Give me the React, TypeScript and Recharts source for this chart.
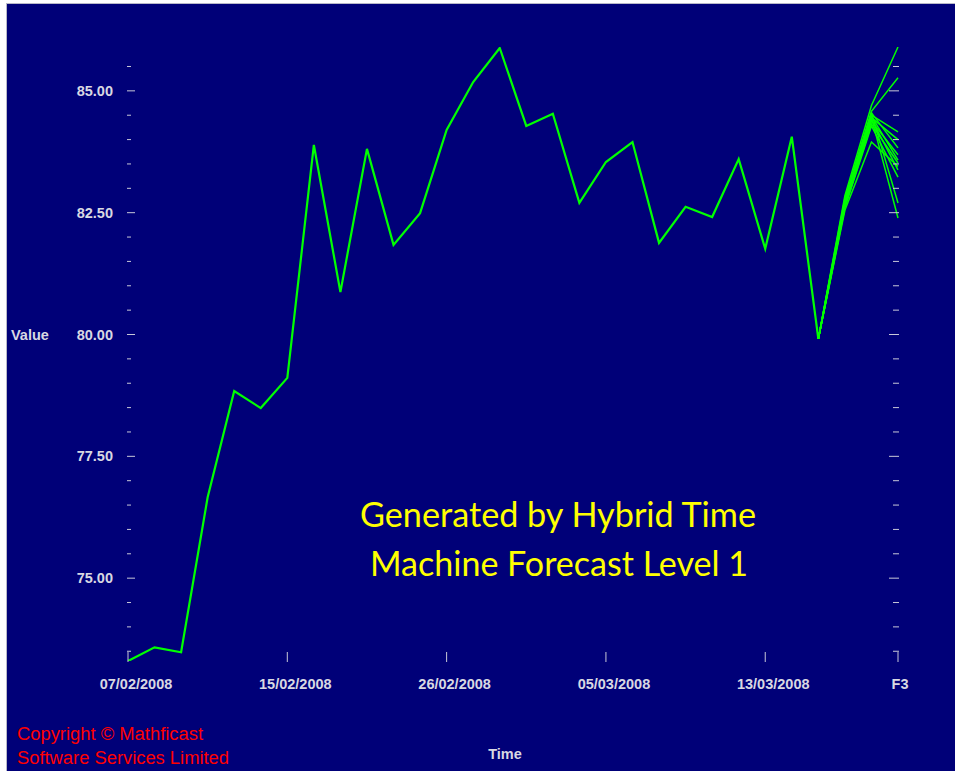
import { LineChart, Line, XAxis, YAxis } from 'recharts'

// trading days, then the three forecast steps
const dates = [
  '07/02/2008', '08/02/2008', '11/02/2008', '12/02/2008', '13/02/2008', '14/02/2008',
  '15/02/2008', '19/02/2008', '20/02/2008', '21/02/2008', '22/02/2008', '25/02/2008',
  '26/02/2008', '27/02/2008', '28/02/2008', '29/02/2008', '03/03/2008', '04/03/2008',
  '05/03/2008', '06/03/2008', '07/03/2008', '10/03/2008', '11/03/2008', '12/03/2008',
  '13/03/2008', '14/03/2008', '17/03/2008', 'F1', 'F2', 'F3',
]

const history = [
  73.30, 73.58, 73.48, 76.66, 78.84, 78.49, 79.11, 83.89, 80.87, 83.81,
  81.84, 82.49, 84.20, 85.18, 85.88, 84.28, 84.53, 82.70, 83.54, 83.95,
  81.88, 82.62, 82.41, 83.60, 81.76, 84.06, 79.91,
]

// each run: F1, F2, F3 (starts from the last history value)
const forecastRuns = [
  [82.85, 84.70, 85.90],
  [82.80, 84.58, 85.27],
  [82.75, 84.50, 84.16],
  [82.70, 84.45, 84.00],
  [82.72, 84.55, 83.83],
  [82.65, 84.38, 83.69],
  [82.68, 84.48, 83.58],
  [82.62, 84.32, 83.52],
  [82.70, 84.42, 83.38],
  [82.60, 84.28, 83.23],
  [82.75, 84.55, 82.70],
  [82.65, 84.45, 82.39],
  [82.55, 83.95, 83.45],
]

const xTicks = ['07/02/2008', '15/02/2008', '26/02/2008', '05/03/2008', '13/03/2008', 'F3']
const yTicks = [
  73.5, 74, 74.5, 75, 75.5, 76, 76.5, 77, 77.5, 78, 78.5, 79, 79.5,
  80, 80.5, 81, 81.5, 82, 82.5, 83, 83.5, 84, 84.5, 85, 85.5,
]
const yMajor = [75, 77.5, 80, 82.5, 85]

const last = history.length - 1
const data = dates.map((label, i) => {
  const row: Record<string, string | number | null> = {
    label,
    hist: i <= last ? history[i] : null,
  }
  forecastRuns.forEach((run, k) => {
    const j = i - last
    row['f' + k] = j < 0 ? null : j === 0 ? history[last] : run[j - 1]
  })
  return row
})

const BG = '#000078'
const LABEL = '#d8d8e2'
const TICK = '#c8c8d8'
const FONT = '"Liberation Sans", Arial, sans-serif'

const LeftTick = ({ x, y, payload }: any) => {
  const major = yMajor.includes(payload.value)
  return (
    <g>
      <line x1={x - 1} x2={x + (major ? 7 : 3)} y1={y} y2={y} stroke={TICK} strokeWidth={1} />
      {major && (
        <text x={x - 15} y={y} dy={5} textAnchor="end" fill={LABEL} fontFamily={FONT} fontWeight="bold" fontSize={14.5}>
          {payload.value.toFixed(2)}
        </text>
      )}
    </g>
  )
}

const RightTick = ({ x, y, payload }: any) => {
  const major = yMajor.includes(payload.value)
  return <line x1={x - (major ? 9 : 5)} x2={x + 1} y1={y} y2={y} stroke={TICK} strokeWidth={1} />
}

const BottomTick = ({ x, y, payload }: any) => {
  const dx = payload.value === 'F3' ? 2 : 8
  return (
    <g>
      <line x1={x} x2={x} y1={y - 9} y2={y + 1} stroke={TICK} strokeWidth={1} />
      <text x={x + dx} y={y + 28} textAnchor="middle" fill={LABEL} fontFamily={FONT} fontWeight="bold" fontSize={14.5}>
        {payload.value}
      </text>
    </g>
  )
}

export default function App() {
  return (
    <div style={{ position: 'relative', width: 955, height: 771, background: '#fff', overflow: 'hidden' }}>
      <style>{'html, body { margin: 0; padding: 0; background: #fff; }'}</style>
      <div
        style={{
          position: 'absolute', left: 6, top: 3, width: 949, height: 768, boxSizing: 'border-box',
          background: BG, borderLeft: '1px solid #b8b8c8', borderTop: '1px solid #b8b8c8',
        }}
      />
      <div style={{ position: 'absolute', left: 0, top: 0 }}>
        <LineChart width={955} height={771} data={data} margin={{ top: 47, right: 37, bottom: 70, left: 68 }}>
          <XAxis
            dataKey="label"
            ticks={xTicks}
            interval={0}
            height={40}
            padding={{ left: 0, right: 0 }}
            axisLine={false}
            tickLine={false}
            tickSize={0}
            tickMargin={0}
            tick={<BottomTick />}
          />
          <YAxis
            yAxisId="left"
            type="number"
            domain={[73.3, 85.9]}
            allowDataOverflow
            ticks={yTicks}
            interval={0}
            width={60}
            axisLine={false}
            tickLine={false}
            tickSize={0}
            tickMargin={0}
            tick={<LeftTick />}
          />
          <YAxis
            yAxisId="right"
            orientation="right"
            type="number"
            domain={[73.3, 85.9]}
            allowDataOverflow
            ticks={yTicks}
            interval={0}
            width={20}
            axisLine={false}
            tickLine={false}
            tickSize={0}
            tickMargin={0}
            tick={<RightTick />}
          />
          {forecastRuns.map((_, k) => (
            <Line
              key={k}
              yAxisId="left"
              type="linear"
              dataKey={'f' + k}
              stroke="#00ff00"
              strokeWidth={1.5}
              dot={false}
              activeDot={false}
              isAnimationActive={false}
            />
          ))}
          <Line
            yAxisId="left"
            type="linear"
            dataKey="hist"
            stroke="#00ff00"
            strokeWidth={2.2}
            dot={false}
            activeDot={false}
            isAnimationActive={false}
          />
        </LineChart>
      </div>
      <svg width={955} height={771} style={{ position: 'absolute', left: 0, top: 0, pointerEvents: 'none' }}>
        <text x={11} y={340} fill={LABEL} fontFamily={FONT} fontWeight="bold" fontSize={14.5}>Value</text>
        <text x={505} y={759} textAnchor="middle" fill={LABEL} fontFamily={FONT} fontWeight="bold" fontSize={14.5}>Time</text>
        <text x={360} y={527} fill="#ffff00" fontFamily="Lato, sans-serif" fontSize={34} textLength={396} lengthAdjust="spacingAndGlyphs">
          Generated by Hybrid Time
        </text>
        <text x={370} y={576} fill="#ffff00" fontFamily="Lato, sans-serif" fontSize={34} textLength={378} lengthAdjust="spacingAndGlyphs">
          Machine Forecast Level 1
        </text>
        <text x={17} y={740} fill="#ff0000" fontFamily={FONT} fontSize={18} textLength={186} lengthAdjust="spacingAndGlyphs">
          Copyright © Mathficast
        </text>
        <text x={17} y={764} fill="#ff0000" fontFamily={FONT} fontSize={18} textLength={212} lengthAdjust="spacingAndGlyphs">
          Software Services Limited
        </text>
      </svg>
    </div>
  )
}
